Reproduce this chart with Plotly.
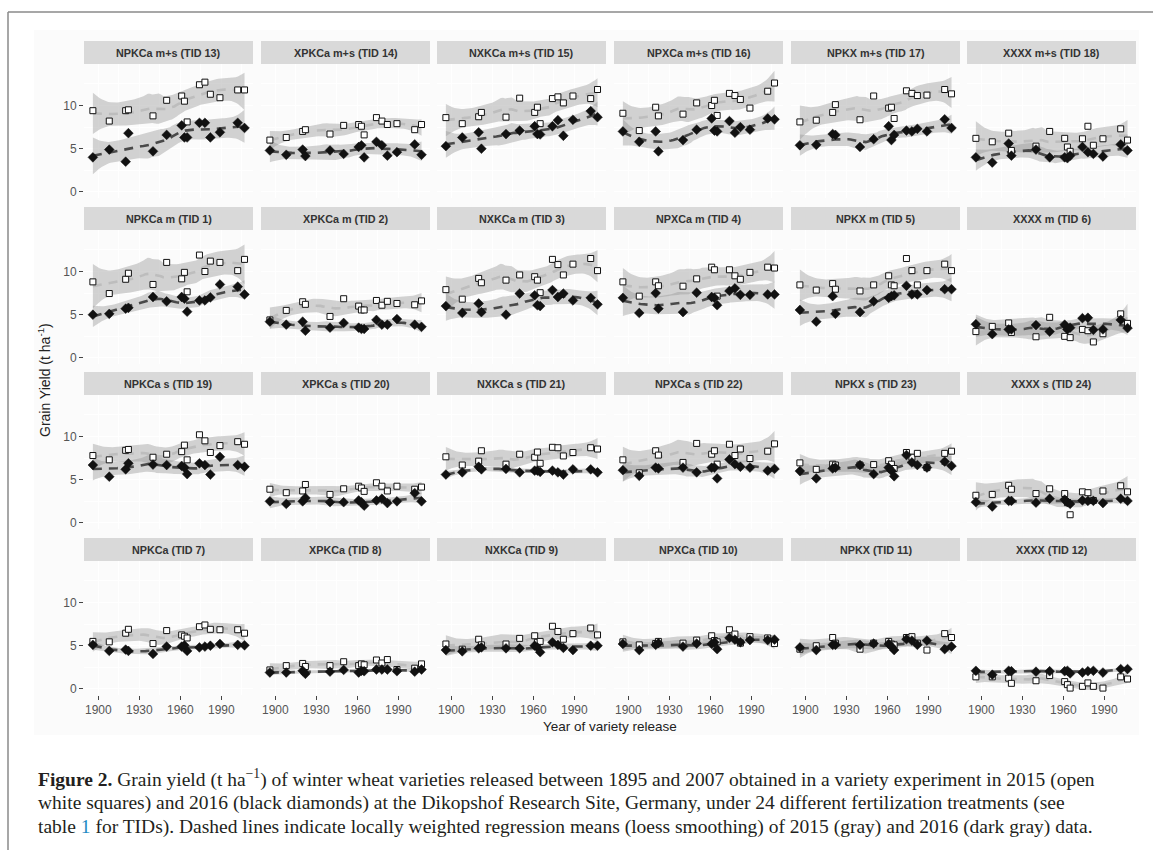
import numpy as np
import plotly.graph_objects as go

# ---------------- data ----------------
YEARS = [1896, 1908, 1920, 1922, 1940, 1950, 1961, 1963, 1965, 1974, 1978, 1982, 1989, 2002, 2007]

GRID_TIDS = [[13, 14, 15, 16, 17, 18],
             [1, 2, 3, 4, 5, 6],
             [19, 20, 21, 22, 23, 24],
             [7, 8, 9, 10, 11, 12]]

PANEL_NAMES = {
    13: "NPKCa m+s (TID 13)", 14: "XPKCa m+s (TID 14)", 15: "NXKCa m+s (TID 15)",
    16: "NPXCa m+s (TID 16)", 17: "NPKX m+s (TID 17)", 18: "XXXX m+s (TID 18)",
    1: "NPKCa m (TID 1)", 2: "XPKCa m (TID 2)", 3: "NXKCa m (TID 3)",
    4: "NPXCa m (TID 4)", 5: "NPKX m (TID 5)", 6: "XXXX m (TID 6)",
    19: "NPKCa s (TID 19)", 20: "XPKCa s (TID 20)", 21: "NXKCa s (TID 21)",
    22: "NPXCa s (TID 22)", 23: "NPKX s (TID 23)", 24: "XXXX s (TID 24)",
    7: "NPKCa (TID 7)", 8: "XPKCa (TID 8)", 9: "NXKCa (TID 9)",
    10: "NPXCa (TID 10)", 11: "NPKX (TID 11)", 12: "XXXX (TID 12)",
}

T13_2015 = [9.4, 8.2, 9.4, 9.5, 8.8, 10.6, 11.1, 10.5, 8.1, 12.4, 12.7, 11.3, 10.9, 11.8, 11.8]
T13_2016 = [4.0, 4.9, 3.5, 6.8, 4.7, 6.6, 7.7, 6.3, 6.3, 8.0, 8.0, 6.3, 6.9, 8.0, 7.4]
T14_2015 = [6.0, 6.3, 7.0, 7.2, 6.7, 7.7, 7.8, 7.6, 6.6, 8.6, 8.2, 7.8, 7.9, 7.2, 7.8]
T14_2016 = [4.8, 4.3, 4.9, 4.15, 4.8, 4.4, 5.2, 5.4, 4.0, 5.8, 5.4, 4.2, 4.6, 5.5, 4.3]
T15_2015 = [8.6, 7.9, 8.7, 9.2, 8.65, 10.85, 9.2, 9.8, 7.9, 10.8, 11.0, 10.3, 11.1, 10.8, 11.85]
T15_2016 = [5.3, 6.3, 6.9, 5.0, 6.7, 7.1, 7.6, 6.7, 6.65, 7.6, 8.3, 6.5, 8.35, 9.35, 8.65]
T16_2015 = [9.1, 7.1, 9.8, 8.8, 9.0, 10.3, 10.0, 10.6, 8.85, 11.4, 11.15, 10.7, 9.7, 11.65, 12.6]
T16_2016 = [7.0, 5.8, 7.0, 4.7, 6.0, 7.2, 8.5, 7.1, 7.0, 8.2, 6.85, 7.5, 7.2, 8.5, 8.4]
T17_2015 = [8.1, 8.3, 9.2, 10.1, 8.35, 11.1, 9.7, 9.8, 8.5, 11.7, 11.4, 11.15, 11.2, 11.85, 11.35]
T17_2016 = [5.4, 5.45, 6.7, 6.6, 5.2, 6.1, 7.6, 6.0, 6.6, 7.1, 7.0, 7.3, 7.0, 8.4, 7.4]
T18_2015 = [6.2, 5.8, 6.8, 4.8, 5.3, 7.0, 6.2, 5.2, 4.7, 6.15, 7.6, 5.4, 6.15, 7.3, 6.0]
T18_2016 = [4.0, 3.4, 5.6, 4.2, 4.9, 4.0, 4.0, 3.9, 4.2, 5.2, 4.6, 4.4, 4.1, 5.5, 4.8]

T1_2015 = [8.8, 7.45, 9.1, 9.8, 8.5, 11.05, 9.15, 9.9, 7.65, 11.9, 10.0, 11.2, 11.05, 10.1, 11.4]
T1_2016 = [5.0, 5.1, 5.7, 5.8, 7.05, 6.55, 7.05, 6.85, 5.35, 6.65, 6.65, 7.0, 8.5, 8.25, 7.35]
T2_2015 = [4.4, 5.5, 6.5, 6.2, 4.8, 6.85, 6.0, 5.55, 5.55, 6.65, 6.1, 6.55, 6.3, 6.15, 6.6]
T2_2016 = [4.2, 3.85, 4.2, 3.15, 3.5, 4.05, 3.5, 3.35, 3.35, 4.4, 3.85, 3.85, 4.5, 3.85, 3.6]
T3_2015 = [7.9, 6.8, 9.2, 8.7, 9.0, 9.6, 9.4, 9.0, 7.55, 11.4, 10.8, 9.6, 10.85, 11.5, 10.1]
T3_2016 = [6.0, 5.2, 6.3, 5.3, 5.0, 7.45, 7.25, 6.1, 6.0, 7.85, 7.05, 7.45, 6.65, 6.95, 6.2]
T4_2015 = [8.8, 7.15, 8.8, 8.35, 8.3, 9.15, 10.5, 10.2, 7.15, 10.2, 9.5, 9.1, 9.9, 10.5, 10.4]
T4_2016 = [6.95, 5.2, 7.5, 5.7, 5.3, 7.55, 7.05, 6.95, 6.1, 7.75, 8.05, 7.3, 7.3, 7.35, 7.35]
T5_2015 = [8.45, 7.85, 8.6, 7.95, 7.75, 8.45, 9.5, 8.45, 8.35, 11.5, 10.1, 8.45, 10.1, 10.85, 10.1]
T5_2016 = [5.55, 4.2, 7.15, 5.1, 5.3, 6.55, 6.95, 7.15, 7.25, 8.35, 7.35, 7.35, 7.85, 7.95, 7.95]
T6_2015 = [3.05, 3.65, 4.05, 2.95, 2.45, 4.7, 2.5, 3.5, 2.35, 3.3, 3.15, 1.85, 2.8, 5.1, 4.0]
T6_2016 = [3.9, 2.75, 3.3, 3.3, 3.8, 3.05, 3.85, 3.3, 3.5, 4.6, 4.65, 3.25, 3.3, 4.4, 3.45]

T19_2015 = [7.8, 7.3, 8.4, 8.5, 7.6, 7.95, 8.25, 9.0, 7.3, 10.2, 9.5, 8.15, 8.95, 9.4, 9.1]
T19_2016 = [6.7, 5.35, 6.2, 6.9, 6.75, 6.7, 6.6, 6.4, 5.65, 6.9, 6.7, 5.6, 7.65, 6.7, 6.5]
T20_2015 = [3.9, 3.5, 3.7, 4.45, 3.3, 3.95, 4.25, 4.05, 3.65, 4.65, 4.25, 3.7, 4.25, 3.9, 4.15]
T20_2016 = [2.5, 2.2, 2.5, 2.9, 2.4, 2.4, 2.6, 2.4, 2.0, 2.6, 2.8, 2.3, 2.5, 3.45, 2.5]
T21_2015 = [7.65, 6.7, 7.15, 8.35, 6.8, 7.95, 7.6, 8.2, 6.9, 8.75, 8.7, 7.75, 8.15, 8.7, 8.55]
T21_2016 = [5.6, 5.85, 6.5, 6.2, 6.25, 5.85, 6.05, 6.05, 5.9, 6.05, 5.85, 5.6, 6.2, 6.2, 5.85]
T22_2015 = [7.3, 5.8, 8.35, 7.85, 7.0, 9.2, 7.95, 8.35, 6.8, 9.1, 7.8, 8.55, 7.45, 8.3, 9.15]
T22_2016 = [6.1, 5.45, 6.4, 6.3, 6.4, 5.85, 6.4, 6.4, 5.15, 7.35, 6.8, 6.5, 6.4, 6.05, 6.25]
T23_2015 = [6.95, 6.2, 6.8, 6.7, 6.7, 6.75, 7.2, 6.8, 6.3, 8.15, 7.6, 8.05, 6.4, 8.05, 8.3]
T23_2016 = [6.0, 5.15, 6.3, 6.4, 6.7, 5.65, 6.4, 6.05, 5.4, 7.85, 7.0, 6.7, 6.4, 7.1, 6.6]
T24_2015 = [3.2, 3.3, 4.35, 3.9, 3.4, 3.95, 3.4, 2.35, 0.95, 3.6, 3.5, 2.6, 3.7, 4.3, 3.6]
T24_2016 = [2.4, 1.9, 2.55, 2.55, 2.35, 2.8, 2.7, 2.4, 2.2, 2.6, 2.55, 2.55, 2.3, 2.8, 2.55]

T7_2015 = [5.5, 5.45, 6.45, 6.9, 5.25, 6.75, 6.25, 6.1, 5.9, 7.2, 7.4, 6.9, 6.85, 6.85, 6.45]
T7_2016 = [5.1, 4.4, 4.55, 4.4, 4.05, 4.9, 4.9, 5.05, 4.4, 4.8, 4.9, 5.0, 5.2, 5.1, 5.05]
T8_2015 = [2.2, 2.7, 2.95, 2.6, 2.7, 3.15, 2.7, 2.9, 2.8, 3.35, 3.0, 3.4, 2.25, 2.4, 2.9]
T8_2016 = [1.9, 1.9, 2.1, 1.75, 2.0, 2.2, 1.9, 2.1, 2.05, 2.25, 2.25, 2.25, 2.05, 2.0, 2.25]
T9_2015 = [5.2, 4.6, 5.75, 5.1, 5.2, 5.85, 6.15, 5.4, 5.5, 7.25, 6.65, 5.75, 6.4, 7.05, 6.25]
T9_2016 = [4.5, 4.35, 4.7, 4.8, 4.7, 4.7, 5.0, 4.8, 4.25, 5.4, 5.1, 4.75, 4.5, 5.0, 5.0]
T10_2015 = [5.45, 5.1, 5.25, 5.5, 5.3, 5.65, 6.15, 5.6, 5.45, 6.85, 6.35, 5.3, 6.05, 5.9, 5.25]
T10_2016 = [5.2, 4.5, 5.1, 5.3, 4.9, 5.25, 5.2, 5.4, 4.6, 5.9, 5.7, 5.4, 5.65, 5.65, 5.7]
T11_2015 = [4.6, 5.0, 5.95, 5.3, 4.6, 5.3, 5.5, 5.2, 5.1, 5.95, 6.05, 5.3, 4.5, 6.4, 5.95]
T11_2016 = [4.8, 4.5, 5.1, 5.1, 5.1, 5.25, 5.2, 4.9, 4.5, 5.75, 5.6, 5.1, 5.6, 4.6, 4.9]
T12_2015 = [1.4, 1.4, 1.25, 0.65, 0.95, 1.55, 0.85, 0.5, 0.1, 0.3, 0.7, 0.3, 0.1, 1.4, 1.15]
T12_2016 = [2.1, 1.65, 2.1, 2.05, 2.0, 2.05, 2.05, 2.1, 1.8, 1.9, 2.05, 2.1, 1.9, 2.3, 2.3]

DATA_2015 = {1: T1_2015, 2: T2_2015, 3: T3_2015, 4: T4_2015, 5: T5_2015, 6: T6_2015,
             7: T7_2015, 8: T8_2015, 9: T9_2015, 10: T10_2015, 11: T11_2015, 12: T12_2015,
             13: T13_2015, 14: T14_2015, 15: T15_2015, 16: T16_2015, 17: T17_2015, 18: T18_2015,
             19: T19_2015, 20: T20_2015, 21: T21_2015, 22: T22_2015, 23: T23_2015, 24: T24_2015}
DATA_2016 = {1: T1_2016, 2: T2_2016, 3: T3_2016, 4: T4_2016, 5: T5_2016, 6: T6_2016,
             7: T7_2016, 8: T8_2016, 9: T9_2016, 10: T10_2016, 11: T11_2016, 12: T12_2016,
             13: T13_2016, 14: T14_2016, 15: T15_2016, 16: T16_2016, 17: T17_2016, 18: T18_2016,
             19: T19_2016, 20: T20_2016, 21: T21_2016, 22: T22_2016, 23: T23_2016, 24: T24_2016}

X_TICKS = [1900, 1930, 1960, 1990]
X_MINOR = [1915, 1945, 1975, 2005]
Y_TICKS = [0, 5, 10]
Y_MINOR = [2.5, 7.5, 12.5]


# ---------------- loess (span 0.75, degree 2) with 95% band ----------------
def _loess_op(x, x0, q):
    d = np.abs(x - x0)
    h = np.sort(d)[q - 1] * 1.0000001 + 1e-9
    u = np.clip(d / h, 0, 1)
    w = (1 - u ** 3) ** 3
    X = np.column_stack([np.ones_like(x), x - x0, (x - x0) ** 2])
    WX = X * w[:, None]
    A = X.T @ WX
    return np.linalg.solve(A, WX.T)[0]


def loess_band(xv, yv, grid, span=0.75, tval=2.2):
    x = np.asarray(xv, float)
    y = np.asarray(yv, float)
    n = len(x)
    q = int(np.floor(span * n))
    L = np.array([_loess_op(x, xi, q) for xi in x])
    res = y - L @ y
    IL = np.eye(n) - L
    delta1 = np.trace(IL.T @ IL)
    s = np.sqrt(np.sum(res ** 2) / delta1)
    fit, se = [], []
    for g in grid:
        l = _loess_op(x, g, q)
        fit.append(l @ y)
        se.append(s * np.sqrt(np.sum(l ** 2)))
    fit = np.array(fit)
    se = np.array(se)
    return fit, fit - tval * se, fit + tval * se


# ---------------- layout geometry ----------------
W, H = 1153, 850
COL_LEFT = [84, 261, 437, 614, 791, 967]
PANEL_W = 169
ROW_TOP = [64, 230, 395, 561]
PANEL_H = 134
STRIP_H = 23
X_RANGE = [1889.5, 2013.2]
Y_RANGE = [-0.7, 14.8]

PANEL_BG = "#EEEEEE"
STRIP_BG = "#D9D9D9"
C2015 = "#BDBDBD"
C2016 = "#4A4A4A"
BAND = "rgba(150,150,150,0.42)"
TICKFONT = dict(family="Liberation Sans, Arial, sans-serif", size=12, color="#555555")

fig = go.Figure()
layout = dict(width=W, height=H, margin=dict(l=0, r=0, t=0, b=0),
              paper_bgcolor="white", plot_bgcolor=PANEL_BG, showlegend=False)
shapes = []
annotations = []

grid_x = np.linspace(min(YEARS), max(YEARS), 70)

for r, row in enumerate(GRID_TIDS):
    for c, tid in enumerate(row):
        idx = r * 6 + c + 1
        xname = "x" if idx == 1 else f"x{idx}"
        yname = "y" if idx == 1 else f"y{idx}"
        L = COL_LEFT[c]
        T = ROW_TOP[r]
        xdom = [L / W, (L + PANEL_W) / W]
        ydom = [1 - (T + PANEL_H) / H, 1 - T / H]
        bottom = (r == len(GRID_TIDS) - 1)
        left = (c == 0)
        layout["xaxis" if idx == 1 else f"xaxis{idx}"] = dict(
            domain=xdom, range=X_RANGE, anchor=yname,
            tickmode="array", tickvals=X_TICKS, ticktext=[str(v) for v in X_TICKS],
            showticklabels=bottom, ticks="outside" if bottom else "",
            ticklen=4, tickwidth=1, tickcolor="#444444", tickfont=TICKFONT,
            showgrid=True, gridcolor="white", gridwidth=1.2,
            minor=dict(tickmode="array", tickvals=X_MINOR, showgrid=True,
                       gridcolor="white", gridwidth=0.6),
            zeroline=False, showline=False, fixedrange=True)
        layout["yaxis" if idx == 1 else f"yaxis{idx}"] = dict(
            domain=ydom, range=Y_RANGE, anchor=xname,
            tickmode="array", tickvals=Y_TICKS, ticktext=[str(v) for v in Y_TICKS],
            showticklabels=left, ticks="outside" if left else "",
            ticklen=4, tickwidth=1, tickcolor="#444444", tickfont=TICKFONT,
            showgrid=True, gridcolor="white", gridwidth=1.2,
            minor=dict(tickmode="array", tickvals=Y_MINOR, showgrid=True,
                       gridcolor="white", gridwidth=0.6),
            zeroline=False, showline=False, fixedrange=True)

        # strip
        shapes.append(dict(type="rect", xref="paper", yref="paper",
                           x0=L / W, x1=(L + PANEL_W) / W,
                           y0=1 - T / H, y1=1 - (T - STRIP_H) / H,
                           fillcolor=STRIP_BG, line=dict(width=0), layer="below"))
        annotations.append(dict(xref="paper", yref="paper",
                                x=(L + PANEL_W / 2) / W, y=1 - (T - STRIP_H / 2) / H,
                                text=f"<b>{PANEL_NAMES[tid]}</b>", showarrow=False,
                                xanchor="center", yanchor="middle",
                                font=dict(family="Liberation Sans, Arial, sans-serif",
                                          size=10.8, color="#333333")))

        y15 = DATA_2015[tid]
        y16 = DATA_2016[tid]
        f15, lo15, hi15 = loess_band(YEARS, y15, grid_x)
        f16, lo16, hi16 = loess_band(YEARS, y16, grid_x)
        gx = list(grid_x)
        for lo, hi in ((lo15, hi15), (lo16, hi16)):
            fig.add_trace(go.Scatter(x=gx + gx[::-1], y=list(hi) + list(lo[::-1]),
                                     fill="toself", fillcolor=BAND, mode="lines",
                                     line=dict(width=0), hoverinfo="skip",
                                     xaxis=xname, yaxis=yname))
        fig.add_trace(go.Scatter(x=gx, y=f15, mode="lines",
                                 line=dict(color=C2015, width=2.6, dash="9px,7px"),
                                 xaxis=xname, yaxis=yname))
        fig.add_trace(go.Scatter(x=gx, y=f16, mode="lines",
                                 line=dict(color=C2016, width=2.6, dash="9px,7px"),
                                 xaxis=xname, yaxis=yname))
        fig.add_trace(go.Scatter(x=YEARS, y=y15, mode="markers",
                                 marker=dict(symbol="square", size=6, color="white",
                                             line=dict(color="#111111", width=1)),
                                 xaxis=xname, yaxis=yname))
        fig.add_trace(go.Scatter(x=YEARS, y=y16, mode="markers",
                                 marker=dict(symbol="diamond", size=7.5, color="#111111",
                                             line=dict(color="#111111", width=0.5)),
                                 xaxis=xname, yaxis=yname))

# axis titles
annotations.append(dict(xref="paper", yref="paper", x=44 / W, y=1 - 380 / H,
                        text="Grain Yield (t ha<sup>-1</sup>)", textangle=-90, showarrow=False,
                        xanchor="center", yanchor="middle",
                        font=dict(family="Liberation Sans, Arial, sans-serif", size=14, color="#222222")))
annotations.append(dict(xref="paper", yref="paper", x=610 / W, y=1 - 726 / H,
                        text="Year of variety release", showarrow=False,
                        xanchor="center", yanchor="middle",
                        font=dict(family="Liberation Sans, Arial, sans-serif", size=13.5, color="#222222")))

# caption
CAPTION = [
    "<b>Figure 2.</b> Grain yield (t ha<sup>−1</sup>) of winter wheat varieties released between 1895 and 2007 obtained in a variety experiment in 2015 (open",
    "white squares) and 2016 (black diamonds) at the Dikopshof Research Site, Germany, under 24 different fertilization treatments (see",
    "table <span style='color:#1E8BC3'>1</span> for TIDs). Dashed lines indicate locally weighted regression means (loess smoothing) of 2015 (gray) and 2016 (dark gray) data.",
]
for i, line in enumerate(CAPTION):
    annotations.append(dict(xref="paper", yref="paper", x=36 / W, y=1 - (778 + 24.5 * i) / H,
                            text=line, showarrow=False, xanchor="left", yanchor="middle",
                            font=dict(family="Liberation Serif, Times New Roman, serif",
                                      size=19.5, color="#231F20")))

# light plot background and frame
shapes.insert(0, dict(type="rect", xref="paper", yref="paper", x0=34 / W, x1=1139 / W,
                      y0=1 - 735 / H, y1=1 - 30 / H, fillcolor="#FBFBFB",
                      line=dict(width=0), layer="below"))
shapes.append(dict(type="line", xref="paper", yref="paper", x0=8 / W, x1=1.0,
                   y0=1 - 12 / H, y1=1 - 12 / H, line=dict(color="#8A8A8A", width=1.5)))
shapes.append(dict(type="line", xref="paper", yref="paper", x0=8 / W, x1=8 / W,
                   y0=0, y1=1 - 12 / H, line=dict(color="#8A8A8A", width=1.5)))

layout["shapes"] = shapes
layout["annotations"] = annotations
fig.update_layout(**layout)
fig.write_html("out.html", config={"displayModeBar": False},
               post_script="document.body.style.margin='0';")
